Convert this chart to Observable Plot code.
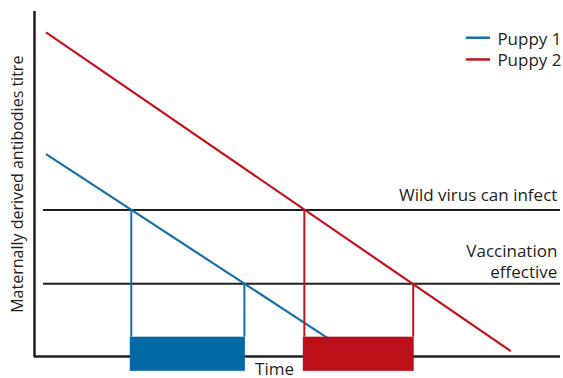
<!DOCTYPE html>
<html>
<head>
<meta charset="utf-8">
<script src="https://cdn.jsdelivr.net/npm/d3@7"></script>
<script src="https://cdn.jsdelivr.net/npm/@observablehq/plot@0.6"></script>
<style>
  html, body { margin: 0; padding: 0; background: #fff; }
  #chart svg { display: block; }
</style>
</head>
<body>
<div id="chart"></div>
<script>
// ---- data (arbitrary units: time 0–100, titre 0–100) ----
const puppies = ["Puppy 1", "Puppy 2"];
const lineColors = ["#1570aa", "#c3141e"];
const barColors = ["#0569a6", "#bb0f19"];
const lineStartTime = [2.34, 2.34];
const lineEndTime = [56.7, 90.4];
const lineStartTitre = [58.5, 93.8];
const lineEndTitre = [4.4, 1.7];

const thresholdLabels = ["Wild virus can infect", "Vaccination\neffective"];
const thresholdTitre = [42.5, 21.1];

// time when each puppy crosses the wild-virus and the vaccination thresholds
const windowStart = [18.4, 51.3];
const windowEnd = [39.9, 72.0];
const barTitreLow = -4.3;
const barTitreHigh = 5.6;

const xLabel = "Time";
const yLabel = "Maternally derived antibodies titre";

// ---- build tables ----
const lines = puppies.flatMap((p, i) => [
  {puppy: p, time: lineStartTime[i], titre: lineStartTitre[i]},
  {puppy: p, time: lineEndTime[i], titre: lineEndTitre[i]}
]);
const verticals = puppies.flatMap((p, i) => [
  {puppy: p, time: windowStart[i], top: thresholdTitre[0]},
  {puppy: p, time: windowEnd[i], top: thresholdTitre[1]}
]);
const bars = puppies.map((p, i) => ({puppy: p, x1: windowStart[i], x2: windowEnd[i]}));
const thresholds = thresholdLabels.map((l, i) => ({label: l, titre: thresholdTitre[i]}));
const legend = puppies.map((p, i) => ({puppy: p, idx: i}));

const font = "'Open Sans', 'Noto Sans', sans-serif";
const ink = "#231f20";
const fs = 17;

const plot = Plot.plot({
  width: 563,
  height: 378,
  marginLeft: 34,
  marginRight: 3,
  marginTop: 11,
  marginBottom: 22,
  x: {domain: [0, 100], axis: null},
  y: {domain: [0, 100], axis: null},
  color: {domain: puppies, range: lineColors},
  style: {fontFamily: font, background: "#fff", overflow: "visible"},
  marks: [
    // threshold lines
    Plot.ruleY(thresholds, {y: "titre", x1: 1.7, x2: 100, stroke: ink, strokeWidth: 2}),
    Plot.text(thresholds, {
      x: 99.4, y: (d, i) => i === 0 ? 47.1 : 27.7, text: "label",
      textAnchor: "end", lineAnchor: "middle", lineHeight: 1.25,
      fontSize: fs, fill: ink
    }),
    // axes
    Plot.ruleX([0], {y1: -0.3, y2: 100, stroke: ink, strokeWidth: 2.5}),
    Plot.ruleY([0], {x1: 0, x2: 100, stroke: ink, strokeWidth: 2.5}),
    // diagonal titre lines
    Plot.line(lines, {x: "time", y: "titre", z: "puppy", stroke: "puppy", strokeWidth: 2.2}),
    // vertical drop lines
    Plot.ruleX(verticals, {x: "time", y1: barTitreHigh, y2: "top", stroke: "puppy", strokeWidth: 2}),
    // window bars
    Plot.rectY(bars, {
      x1: "x1", x2: "x2", y1: barTitreLow, y2: barTitreHigh,
      fill: (d, i) => barColors[i], insetLeft: -1, insetRight: -1
    }),
    // legend
    Plot.ruleY(legend, {
      y: d => d.idx === 0 ? 92.4 : 86.1, x1: 82.1, x2: 86.7,
      stroke: "puppy", strokeWidth: 2.5
    }),
    Plot.text(legend, {
      x: 88.0, y: d => d.idx === 0 ? 92.0 : 85.7, text: "puppy",
      textAnchor: "start", lineAnchor: "middle", fontSize: fs, fill: ink
    }),
    // axis labels
    Plot.text([xLabel], {
      frameAnchor: "bottom", text: d => d, dx: -23, dy: 12.6,
      textAnchor: "middle", lineAnchor: "middle", fontSize: fs, fill: ink
    }),
    Plot.text([yLabel], {
      frameAnchor: "left", text: d => d, rotate: -90, dx: -16.5, dy: 0.2,
      textAnchor: "middle", lineAnchor: "middle", fontSize: 16, fill: ink
    })
  ]
});
document.getElementById("chart").appendChild(plot);
</script>
</body>
</html>
